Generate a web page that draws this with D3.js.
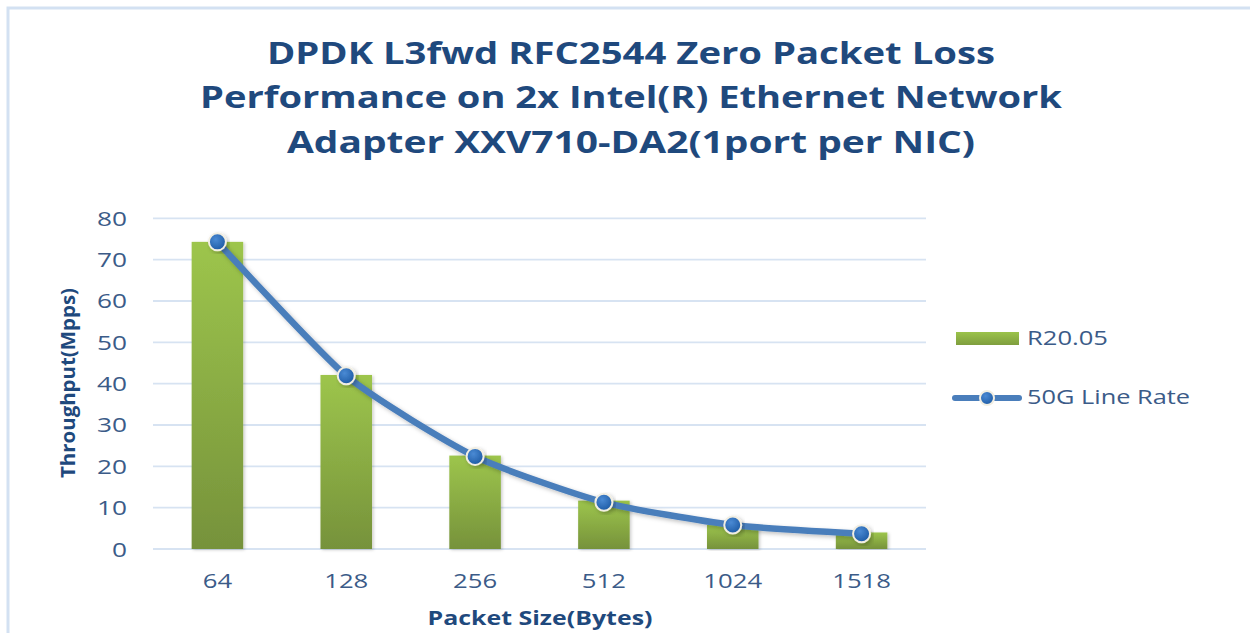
<!DOCTYPE html>
<html>
<head>
<meta charset="utf-8">
<script src="https://cdn.jsdelivr.net/npm/d3@7"></script>
<style>
  html, body { margin: 0; padding: 0; background: #ffffff; }
  svg { display: block; }
</style>
</head>
<body>
<svg id="chart" width="1250" height="633"></svg>
<script>
// ---- data ----
const categories = ["64", "128", "256", "512", "1024", "1518"];
const barSeriesName = "R20.05";
const barValues = [74.3, 42.1, 22.6, 11.7, 5.8, 4.0];
const lineSeriesName = "50G Line Rate";
const lineValues = [74.3, 41.9, 22.4, 11.3, 5.8, 3.7];
const yTicks = [0, 10, 20, 30, 40, 50, 60, 70, 80];
const titleLines = [
  "DPDK L3fwd RFC2544 Zero Packet Loss",
  "Performance on 2x Intel(R) Ethernet Network",
  "Adapter XXV710-DA2(1port per NIC)"
];
const xTitle = "Packet Size(Bytes)";
const yTitle = "Throughput(Mpps)";

// ---- setup ----
const svg = d3.select("#chart");
const FONT = "'Open Sans', 'Noto Sans', sans-serif";
const titleColor = "#1f497d";
const labelColor = "#3b5b88";

const defs = svg.append("defs");
const barGrad = defs.append("linearGradient").attr("id", "barGrad")
  .attr("x1", 0).attr("y1", 0).attr("x2", 0).attr("y2", 1);
barGrad.append("stop").attr("offset", "0%").attr("stop-color", "#9dc54c");
barGrad.append("stop").attr("offset", "100%").attr("stop-color", "#76923b");

const legGrad = defs.append("linearGradient").attr("id", "legGrad")
  .attr("x1", 0).attr("y1", 0).attr("x2", 0).attr("y2", 1);
legGrad.append("stop").attr("offset", "0%").attr("stop-color", "#9bc34a");
legGrad.append("stop").attr("offset", "100%").attr("stop-color", "#7f9e3e");

const mGrad = defs.append("radialGradient").attr("id", "mGrad")
  .attr("cx", "40%").attr("cy", "35%").attr("r", "65%");
mGrad.append("stop").attr("offset", "0%").attr("stop-color", "#4a8ad4");
mGrad.append("stop").attr("offset", "100%").attr("stop-color", "#1f5ca6");

const shadow = defs.append("filter").attr("id", "shadow")
  .attr("x", "-10%").attr("y", "-10%").attr("width", "130%").attr("height", "130%");
shadow.append("feDropShadow").attr("dx", 2).attr("dy", 2).attr("stdDeviation", 2)
  .attr("flood-color", "#000").attr("flood-opacity", 0.25);

const barShadow = defs.append("filter").attr("id", "barShadow")
  .attr("x", "-20%").attr("y", "-5%").attr("width", "140%").attr("height", "110%");
barShadow.append("feDropShadow").attr("dx", 1.5).attr("dy", 1).attr("stdDeviation", 1.5)
  .attr("flood-color", "#000").attr("flood-opacity", 0.2);

// ---- frame ----
svg.append("path")
  .attr("d", "M8,633 L8,8 L1250,8")
  .attr("fill", "none").attr("stroke", "#d3e1f2").attr("stroke-width", 3);

// ---- title ----
const titleBaselines = [64, 108, 153];
const titleWidths = [728, 862, 688];
svg.append("g").selectAll("text").data(titleLines).join("text")
  .attr("x", 631).attr("y", (d, i) => titleBaselines[i])
  .attr("text-anchor", "middle")
  .attr("textLength", (d, i) => titleWidths[i])
  .attr("lengthAdjust", "spacingAndGlyphs")
  .attr("font-family", FONT).attr("font-weight", "bold").attr("font-size", 30)
  .attr("fill", titleColor)
  .text(d => d);

// ---- scales ----
const x = d3.scaleBand().domain(categories).range([153, 926])
  .paddingInner(0.6).paddingOuter(0.3);
const xLine = d3.scaleBand().domain(categories).range([153, 926]);
const y = d3.scaleLinear().domain([0, 80]).range([549, 218.3]);

// ---- gridlines ----
svg.append("g").selectAll("line").data(yTicks).join("line")
  .attr("x1", 153).attr("x2", 926)
  .attr("y1", d => y(d)).attr("y2", d => y(d))
  .attr("stroke", "#d7e3f2").attr("stroke-width", 1.8);

// ---- y axis ----
const yAxis = d3.axisLeft(y).tickValues(yTicks).tickSize(0).tickPadding(0);
const yg = svg.append("g").attr("transform", "translate(127,0)").call(yAxis);
yg.select(".domain").remove();
yg.selectAll("text")
  .attr("font-family", FONT).attr("font-size", 20)
  .attr("fill", labelColor).attr("dy", "0.35em")
  .attr("textLength", function() { return this.textContent.length * 15; })
  .attr("lengthAdjust", "spacingAndGlyphs");

// ---- x axis ----
const xAxis = d3.axisBottom(x).tickSize(0).tickPadding(0);
const xg = svg.append("g").attr("transform", "translate(0,588)").call(xAxis);
xg.select(".domain").remove();
xg.selectAll("text")
  .attr("font-family", FONT).attr("font-size", 20)
  .attr("fill", labelColor).attr("dy", 0).attr("y", 0)
  .attr("textLength", function() { return this.textContent.length * 14.7; })
  .attr("lengthAdjust", "spacingAndGlyphs");

// ---- axis titles ----
svg.append("text")
  .attr("x", 540).attr("y", 625).attr("text-anchor", "middle")
  .attr("textLength", 225).attr("lengthAdjust", "spacingAndGlyphs")
  .attr("font-family", FONT).attr("font-weight", "bold").attr("font-size", 20)
  .attr("fill", titleColor).text(xTitle);

svg.append("text")
  .attr("transform", "translate(75,383) rotate(-90)")
  .attr("text-anchor", "middle")
  .attr("textLength", 190).attr("lengthAdjust", "spacingAndGlyphs")
  .attr("font-family", FONT).attr("font-weight", "bold").attr("font-size", 20)
  .attr("fill", titleColor).text(yTitle);

// ---- bars ----
svg.append("g").selectAll("rect").data(barValues).join("rect")
  .attr("x", (d, i) => x(categories[i]))
  .attr("width", x.bandwidth())
  .attr("y", d => y(d))
  .attr("height", d => y(0) - y(d))
  .attr("fill", "url(#barGrad)")
  .attr("filter", "url(#barShadow)");

// ---- line ----
const pts = lineValues.map((v, i) => [xLine(categories[i]) + xLine.bandwidth() / 2, y(v)]);
svg.append("path")
  .attr("d", d3.line().curve(d3.curveCardinal.tension(0.4))(pts))
  .attr("fill", "none").attr("stroke", "#4a7ebb").attr("stroke-width", 6.5)
  .attr("stroke-linecap", "round")
  .attr("filter", "url(#shadow)");
svg.append("g").selectAll("circle").data(pts).join("circle")
  .attr("cx", d => d[0]).attr("cy", d => d[1]).attr("r", 8.5)
  .attr("fill", "url(#mGrad)")
  .attr("stroke", "#f1eee2").attr("stroke-width", 2)
  .attr("filter", "url(#shadow)");

// ---- legend ----
const leg = svg.append("g");
leg.append("rect").attr("x", 956).attr("y", 332).attr("width", 63).attr("height", 13)
  .attr("fill", "url(#legGrad)");
leg.append("text").attr("x", 1027).attr("y", 345)
  .attr("font-family", FONT).attr("font-size", 20).attr("fill", labelColor)
  .attr("textLength", 81).attr("lengthAdjust", "spacingAndGlyphs")
  .text(barSeriesName);
leg.append("line").attr("x1", 955).attr("x2", 1019).attr("y1", 398).attr("y2", 398)
  .attr("stroke", "#4a7ebb").attr("stroke-width", 6).attr("stroke-linecap", "round");
leg.append("circle").attr("cx", 987).attr("cy", 398).attr("r", 7)
  .attr("fill", "url(#mGrad)").attr("stroke", "#f1eee2").attr("stroke-width", 2);
leg.append("text").attr("x", 1027).attr("y", 404)
  .attr("font-family", FONT).attr("font-size", 20).attr("fill", labelColor)
  .attr("textLength", 163).attr("lengthAdjust", "spacingAndGlyphs")
  .text(lineSeriesName);
</script>
</body>
</html>
